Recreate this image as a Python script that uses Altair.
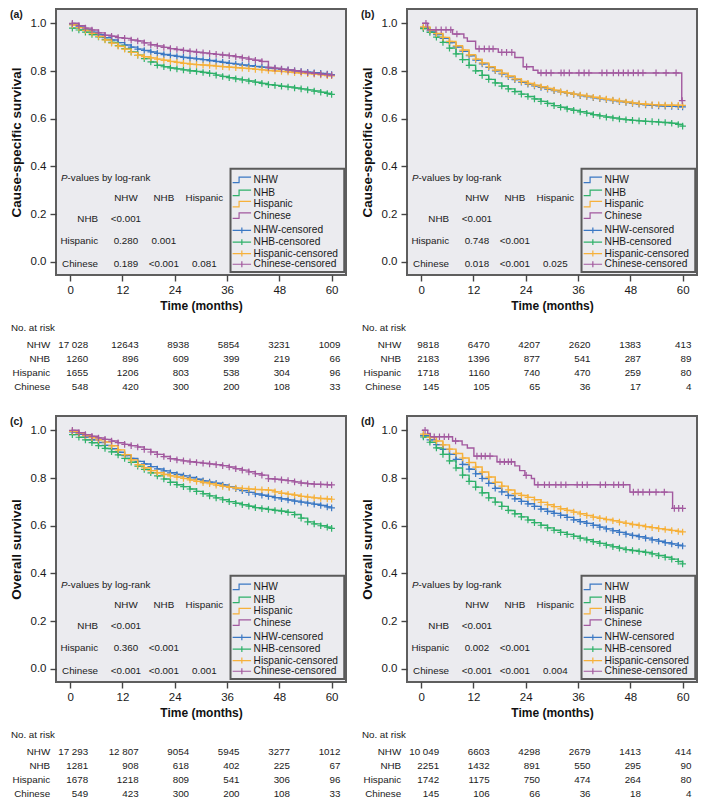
import altair as alt
import pandas as pd

FONT = "Liberation Sans"
GROUPS = ["NHW", "NHB", "Hispanic", "Chinese"]
CENS_LABELS = ["NHW-censored", "NHB-censored", "Hispanic-censored", "Chinese-censored"]
COLORS = ["#3b78c4", "#2fb16a", "#f6b13b", "#a2599f"]

T = [0.5, 2, 3.5, 5, 6.5, 8, 9.5, 11, 12.5, 14, 15.5, 17, 18.5, 20, 21.5, 23, 24.5, 26,
     27.5, 29, 30.5, 32, 33.5, 35, 36.5, 38, 39.5, 41, 42.5, 44, 45.5, 47, 48.5, 50,
     51.5, 53, 54.5, 56, 57.5, 59, 60]

# (a) cause-specific survival, panel a
A_NHW = [0.995, 0.985, 0.974, 0.963, 0.952, 0.940, 0.930, 0.919, 0.909, 0.900, 0.892, 0.886, 0.880, 0.874,
         0.869, 0.865, 0.861, 0.857, 0.854, 0.851, 0.848, 0.844, 0.840, 0.836, 0.832, 0.829, 0.825, 0.822,
         0.819, 0.816, 0.813, 0.810, 0.807, 0.804, 0.801, 0.798, 0.795, 0.793, 0.790, 0.787, 0.785]
A_NHB = [0.980, 0.972, 0.963, 0.953, 0.943, 0.932, 0.920, 0.907, 0.894, 0.880, 0.866, 0.852, 0.838, 0.824,
         0.818, 0.813, 0.809, 0.805, 0.801, 0.798, 0.794, 0.790, 0.783, 0.777, 0.772, 0.767, 0.763, 0.758,
         0.753, 0.748, 0.743, 0.740, 0.736, 0.733, 0.729, 0.725, 0.721, 0.716, 0.711, 0.706, 0.702]
A_HIS = [0.993, 0.982, 0.970, 0.958, 0.945, 0.930, 0.917, 0.904, 0.892, 0.878, 0.866, 0.860, 0.855, 0.850,
         0.845, 0.840, 0.836, 0.832, 0.829, 0.827, 0.825, 0.823, 0.820, 0.818, 0.816, 0.814, 0.812, 0.810,
         0.807, 0.805, 0.802, 0.800, 0.798, 0.796, 0.793, 0.791, 0.789, 0.787, 0.784, 0.781, 0.780]
A_CHI = [1.000, 0.990, 0.980, 0.972, 0.960, 0.950, 0.946, 0.940, 0.937, 0.930, 0.926, 0.918, 0.910, 0.905,
         0.899, 0.894, 0.890, 0.886, 0.882, 0.879, 0.876, 0.873, 0.870, 0.867, 0.864, 0.860, 0.855, 0.850,
         0.845, 0.840, 0.815, 0.812, 0.808, 0.805, 0.801, 0.797, 0.793, 0.790, 0.787, 0.785, 0.783]

# (b)
B_NHW = [0.982, 0.968, 0.953, 0.937, 0.919, 0.901, 0.883, 0.864, 0.846, 0.830, 0.815, 0.801, 0.788, 0.776,
         0.764, 0.753, 0.745, 0.738, 0.731, 0.724, 0.718, 0.712, 0.707, 0.702, 0.697, 0.693, 0.688, 0.684,
         0.680, 0.676, 0.672, 0.668, 0.664, 0.661, 0.658, 0.656, 0.654, 0.653, 0.652, 0.651, 0.650]
B_NHB = [0.978, 0.962, 0.942, 0.920, 0.896, 0.872, 0.848, 0.824, 0.801, 0.782, 0.765, 0.750, 0.737, 0.725,
         0.714, 0.703, 0.693, 0.683, 0.673, 0.664, 0.655, 0.648, 0.641, 0.635, 0.629, 0.623, 0.617, 0.612,
         0.607, 0.603, 0.599, 0.596, 0.593, 0.591, 0.589, 0.588, 0.586, 0.584, 0.581, 0.576, 0.569]
B_HIS = [0.985, 0.972, 0.957, 0.941, 0.924, 0.906, 0.888, 0.868, 0.850, 0.834, 0.818, 0.804, 0.791, 0.779,
         0.767, 0.756, 0.748, 0.741, 0.734, 0.727, 0.720, 0.713, 0.708, 0.703, 0.699, 0.695, 0.690, 0.686,
         0.682, 0.678, 0.674, 0.670, 0.666, 0.663, 0.661, 0.659, 0.658, 0.657, 0.657, 0.656, 0.656]
B_CHI_ST = [0.2, 1.5, 7.2, 9.8, 10.6, 12.5, 17.7, 21.5, 23.4, 25.7, 26.8, 59.8, 60]
B_CHI_SV = [1.000, 0.973, 0.955, 0.939, 0.925, 0.893, 0.878, 0.857, 0.818, 0.803, 0.792, 0.676, 0.676]
B_CHI_CT = [1.1, 3.4, 4.6, 5.7, 6.8, 8.2, 13.3, 14.5, 15.6, 16.5, 18.5, 19.6, 20.8, 24.2, 27.5, 28.7, 29.8,
            32.1, 32.8, 34.0, 36.2, 37.4, 38.5, 41.5, 42.6, 44.1, 45.3, 46.4, 47.5, 48.7, 49.8, 50.9, 53.9,
            56.2, 58.5, 59.9]
B_CHI_CV = [1.000, 0.973, 0.973, 0.973, 0.973, 0.955, 0.893, 0.893, 0.893, 0.893, 0.878, 0.878, 0.878, 0.818,
            0.792, 0.792, 0.792, 0.792, 0.792, 0.792, 0.792, 0.792, 0.792, 0.792, 0.792, 0.792, 0.792, 0.792,
            0.792, 0.792, 0.792, 0.792, 0.792, 0.792, 0.792, 0.676]

# (c) overall survival
C_NHW = [0.993, 0.983, 0.972, 0.960, 0.949, 0.937, 0.923, 0.908, 0.894, 0.882, 0.870, 0.859, 0.848, 0.838,
         0.830, 0.822, 0.815, 0.809, 0.802, 0.795, 0.788, 0.783, 0.778, 0.771, 0.763, 0.755, 0.747, 0.740,
         0.733, 0.728, 0.723, 0.718, 0.713, 0.708, 0.703, 0.699, 0.695, 0.690, 0.685, 0.679, 0.675]
C_NHB = [0.982, 0.971, 0.960, 0.948, 0.936, 0.924, 0.910, 0.897, 0.882, 0.866, 0.850, 0.836, 0.822, 0.809,
         0.796, 0.782, 0.772, 0.764, 0.754, 0.744, 0.734, 0.725, 0.717, 0.709, 0.701, 0.694, 0.688, 0.682,
         0.676, 0.672, 0.668, 0.664, 0.661, 0.656, 0.647, 0.632, 0.616, 0.608, 0.600, 0.594, 0.589]
C_HIS = [0.995, 0.987, 0.978, 0.969, 0.960, 0.951, 0.935, 0.918, 0.898, 0.876, 0.856, 0.843, 0.831, 0.822,
         0.815, 0.809, 0.804, 0.798, 0.792, 0.786, 0.781, 0.776, 0.770, 0.765, 0.761, 0.758, 0.756, 0.754,
         0.752, 0.751, 0.749, 0.742, 0.736, 0.732, 0.728, 0.723, 0.720, 0.717, 0.714, 0.712, 0.711]
C_CHI = [1.000, 0.990, 0.982, 0.975, 0.968, 0.962, 0.955, 0.948, 0.941, 0.936, 0.930, 0.920, 0.909, 0.899,
         0.890, 0.881, 0.876, 0.872, 0.868, 0.865, 0.862, 0.859, 0.856, 0.852, 0.846, 0.839, 0.833, 0.826,
         0.818, 0.812, 0.797, 0.795, 0.792, 0.789, 0.784, 0.779, 0.776, 0.774, 0.773, 0.772, 0.771]

# (d)
D_NHW = [0.978, 0.960, 0.940, 0.920, 0.899, 0.878, 0.857, 0.837, 0.818, 0.798, 0.778, 0.757, 0.742, 0.727,
         0.713, 0.702, 0.692, 0.681, 0.670, 0.660, 0.652, 0.644, 0.635, 0.625, 0.617, 0.610, 0.602, 0.594,
         0.587, 0.579, 0.572, 0.565, 0.559, 0.554, 0.548, 0.541, 0.535, 0.529, 0.524, 0.518, 0.515]
D_NHB = [0.972, 0.950, 0.926, 0.899, 0.872, 0.842, 0.812, 0.786, 0.762, 0.738, 0.717, 0.699, 0.681, 0.664,
         0.650, 0.637, 0.624, 0.613, 0.602, 0.591, 0.581, 0.572, 0.564, 0.556, 0.548, 0.541, 0.533, 0.526,
         0.519, 0.512, 0.506, 0.500, 0.496, 0.492, 0.488, 0.482, 0.475, 0.468, 0.460, 0.450, 0.440]
D_HIS = [0.984, 0.970, 0.955, 0.939, 0.921, 0.903, 0.884, 0.865, 0.846, 0.825, 0.804, 0.782, 0.766, 0.750,
         0.735, 0.727, 0.719, 0.709, 0.698, 0.688, 0.680, 0.671, 0.664, 0.657, 0.650, 0.643, 0.636, 0.631,
         0.626, 0.621, 0.615, 0.610, 0.605, 0.601, 0.596, 0.592, 0.588, 0.584, 0.580, 0.576, 0.574]
D_CHI_ST = [0.2, 1.5, 2.1, 7.2, 9.4, 10.6, 12.1, 17.4, 21.5, 22.6, 23.8, 25.3, 26.0, 47.9, 57.7, 60]
D_CHI_SV = [1.000, 0.987, 0.973, 0.955, 0.939, 0.926, 0.892, 0.868, 0.851, 0.831, 0.811, 0.798, 0.772, 0.741,
            0.673, 0.673]
D_CHI_CT = [0.9, 3.0, 4.2, 5.3, 6.3, 7.9, 12.8, 13.8, 14.7, 15.8, 18.1, 19.1, 20.0, 20.7, 24.1, 26.8, 28.3,
            29.4, 30.9, 32.1, 33.2, 35.8, 37.0, 38.1, 41.1, 42.3, 44.2, 45.3, 46.4, 48.7, 49.8, 50.9, 52.4,
            53.9, 55.8, 58.1, 59.1, 60.0]
D_CHI_CV = [1.000, 0.973, 0.973, 0.973, 0.973, 0.955, 0.892, 0.892, 0.892, 0.892, 0.868, 0.868, 0.868, 0.868,
            0.811, 0.772, 0.772, 0.772, 0.772, 0.772, 0.772, 0.772, 0.772, 0.772, 0.772, 0.772, 0.772, 0.772,
            0.772, 0.741, 0.741, 0.741, 0.741, 0.741, 0.741, 0.673, 0.673, 0.673]

# numbers at risk
RISK_TIMES = [0, 12, 24, 36, 48, 60]
RISK_A = {"NHW": ["17 028", "12643", "8938", "5854", "3231", "1009"],
          "NHB": ["1260", "896", "609", "399", "219", "66"],
          "Hispanic": ["1655", "1206", "803", "538", "304", "96"],
          "Chinese": ["548", "420", "300", "200", "108", "33"]}
RISK_B = {"NHW": ["9818", "6470", "4207", "2620", "1383", "413"],
          "NHB": ["2183", "1396", "877", "541", "287", "89"],
          "Hispanic": ["1718", "1160", "740", "470", "259", "80"],
          "Chinese": ["145", "105", "65", "36", "17", "4"]}
RISK_C = {"NHW": ["17 293", "12 807", "9054", "5945", "3277", "1012"],
          "NHB": ["1281", "908", "618", "402", "225", "67"],
          "Hispanic": ["1678", "1218", "809", "541", "306", "96"],
          "Chinese": ["549", "423", "300", "200", "108", "33"]}
RISK_D = {"NHW": ["10 049", "6603", "4298", "2679", "1413", "414"],
          "NHB": ["2251", "1432", "891", "550", "295", "90"],
          "Hispanic": ["1742", "1175", "750", "474", "264", "80"],
          "Chinese": ["145", "106", "66", "36", "18", "4"]}

# log-rank p-values (rows NHB, Hispanic, Chinese vs columns NHW, NHB, Hispanic)
PV_ROWS = ["NHB", "Hispanic", "Chinese"]
PV_COLS = ["NHW", "NHB", "Hispanic"]
PV_A = [["<0.001"], ["0.280", "0.001"], ["0.189", "<0.001", "0.081"]]
PV_B = [["<0.001"], ["0.748", "<0.001"], ["0.018", "<0.001", "0.025"]]
PV_C = [["<0.001"], ["0.360", "<0.001"], ["<0.001", "<0.001", "0.001"]]
PV_D = [["<0.001"], ["0.002", "<0.001"], ["<0.001", "<0.001", "0.004"]]

# ---------------- layout constants ----------------
W, H = 290, 266
XD = [-3.25, 63.3]
YD = [-0.055, 1.06]
PXU = H / (YD[1] - YD[0])
MXU = W / (XD[1] - XD[0])
TEXT = "#1a1a1a"
STEP_PATH = "M-1,0.3L-0.3,0.3L-0.3,-0.3L1,-0.3"
CENS_PATH = "M-1,0L1,0M0,-0.32L0,0.32"
CROSS_PATH = "M-1,0L1,0M0,-1L0,1"


def below(px):
    return YD[0] - px / PXU


def make_panel(tag, ytitle, curves, risk, pv):
    xs = alt.Scale(domain=XD, nice=False, zero=False)
    ys = alt.Scale(domain=YD, nice=False, zero=False)
    X = alt.X("t:Q", scale=xs,
              axis=alt.Axis(values=RISK_TIMES, title="Time (months)", labelPadding=3, titlePadding=5))
    Y = alt.Y("v:Q", scale=ys,
              axis=alt.Axis(values=[0, 0.2, 0.4, 0.6, 0.8, 1.0], format=".1f", title=ytitle,
                            titleFontSize=13.5, labelPadding=4, titlePadding=7))
    layers = []
    for g, col in zip(GROUPS, COLORS):
        st, sv, ct, cv = curves[g]
        layers.append(alt.Chart(pd.DataFrame({"t": st, "v": sv})).mark_line(
            interpolate="step-after", color=col, strokeWidth=1.4).encode(x=X, y=Y))
        layers.append(alt.Chart(pd.DataFrame({"t": ct, "v": cv})).mark_point(
            shape=CROSS_PATH, size=44, filled=False, color=col, strokeWidth=1.2, opacity=1).encode(x=X, y=Y))

    def txt(df, **kw):
        base = dict(font=FONT, fontSize=9.8, color=TEXT, baseline="middle")
        base.update(kw)
        return alt.Chart(df).mark_text(**base).encode(x=X, y=Y, text="s:N")

    # p-value table
    layers.append(txt(pd.DataFrame({"t": [-2.1], "v": [0.35], "s": ["P"]}), align="left", fontStyle="italic"))
    layers.append(txt(pd.DataFrame({"t": [-2.1], "v": [0.35], "s": ["-values by log-rank"]}), align="left", dx=6.6))
    col_t = [12.8, 21.5, 30.8]
    row_v = [0.181, 0.087, -0.01]
    layers.append(txt(pd.DataFrame({"t": col_t, "v": [0.268] * 3, "s": PV_COLS}), align="center"))
    layers.append(txt(pd.DataFrame({"t": [6.4] * 3, "v": row_v, "s": PV_ROWS}), align="right"))
    pt, pvv, ps = [], [], []
    for i, row in enumerate(pv):
        for j, val in enumerate(row):
            pt.append(col_t[j]); pvv.append(row_v[i]); ps.append(val)
    layers.append(txt(pd.DataFrame({"t": pt, "v": pvv, "s": ps}), align="center"))

    # legend
    leg_v = [0.344, 0.289, 0.242, 0.194, 0.132, 0.083, 0.035, -0.01]
    layers.append(alt.Chart(pd.DataFrame({"t": [36.8], "t2": [62.9], "v": [0.39], "v2": [-0.042]})).mark_rect(
        fill="#ebebef", stroke="#5a5a5a", strokeWidth=2).encode(x=X, x2="t2:Q", y=Y, y2="v2:Q"))
    cscale = alt.Scale(domain=GROUPS, range=COLORS)
    layers.append(alt.Chart(pd.DataFrame({"t": [39.4] * 4, "v": leg_v[:4], "g": GROUPS})).mark_point(
        shape=STEP_PATH, size=340, filled=False, strokeWidth=1.2, opacity=1).encode(
        x=X, y=Y, color=alt.Color("g:N", scale=cscale, legend=None)))
    layers.append(alt.Chart(pd.DataFrame({"t": [39.4] * 4, "v": leg_v[4:], "g": GROUPS})).mark_point(
        shape=CENS_PATH, size=340, filled=False, strokeWidth=1.2, opacity=1).encode(
        x=X, y=Y, color=alt.Color("g:N", scale=cscale, legend=None)))
    layers.append(txt(pd.DataFrame({"t": [42.1] * 8, "v": leg_v, "s": GROUPS + CENS_LABELS}),
                      align="left", fontSize=10.2))

    # numbers at risk: columns sit on a slightly compressed grid, right-aligned
    rows_v = [below(70), below(84), below(98), below(112)]
    layers.append(txt(pd.DataFrame({"t": [-13.6], "v": [below(53)], "s": ["No. at risk"]}), align="left"))
    layers.append(txt(pd.DataFrame({"t": [-20 / MXU] * 4, "v": rows_v, "s": GROUPS}), align="right"))
    rt, rv, rs = [], [], []
    for i, g in enumerate(GROUPS):
        for j, tt in enumerate(RISK_TIMES):
            rt.append(tt * 0.965 + 18 / MXU); rv.append(rows_v[i]); rs.append(risk[g][j])
    layers.append(txt(pd.DataFrame({"t": rt, "v": rv, "s": rs}), align="right"))

    # panel tag
    layers.append(txt(pd.DataFrame({"t": [-13.8], "v": [1.035], "s": [tag]}), align="left",
                      fontWeight="bold", fontSize=10.5))
    return alt.layer(*layers).properties(width=W, height=H)


def dense(vals_by_group):
    return {g: (T, v, T, v) for g, v in zip(GROUPS, vals_by_group)}


cur_a = dense([A_NHW, A_NHB, A_HIS, A_CHI])
cur_b = dense([B_NHW, B_NHB, B_HIS, B_HIS])
cur_b["Chinese"] = (B_CHI_ST, B_CHI_SV, B_CHI_CT, B_CHI_CV)
cur_c = dense([C_NHW, C_NHB, C_HIS, C_CHI])
cur_d = dense([D_NHW, D_NHB, D_HIS, D_HIS])
cur_d["Chinese"] = (D_CHI_ST, D_CHI_SV, D_CHI_CT, D_CHI_CV)

pa = make_panel("(a)", "Cause-specific survival", cur_a, RISK_A, PV_A)
pb = make_panel("(b)", "Cause-specific survival", cur_b, RISK_B, PV_B)
pc = make_panel("(c)", "Overall survival", cur_c, RISK_C, PV_C)
pd_ = make_panel("(d)", "Overall survival", cur_d, RISK_D, PV_D)

chart = alt.vconcat(
    alt.hconcat(pa, pb, spacing=12),
    alt.hconcat(pc, pd_, spacing=12),
    spacing=22,
).properties(padding=0).configure_view(
    fill="#ebebef", stroke="#5e5e5e", strokeWidth=2
).configure_axis(
    labelFont=FONT, titleFont=FONT, labelFontSize=11.5, titleFontSize=12, titleFontWeight="bold",
    labelColor=TEXT, titleColor="#111111", tickColor="#444444", tickSize=6, tickWidth=1.4,
    domain=False, grid=False
)

chart.save("out.html", embed_options={"renderer": "svg", "actions": False})
